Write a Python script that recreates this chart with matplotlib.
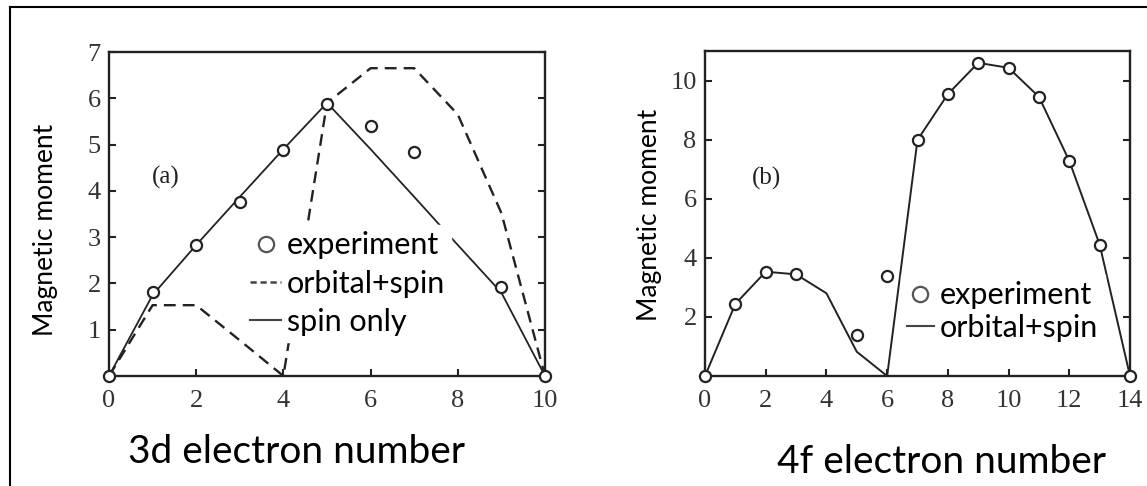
import matplotlib.pyplot as plt
from matplotlib.lines import Line2D

# 3d series
n_3d = [0, 1, 2, 3, 4, 5, 6, 7, 8, 9, 10]
spin_only_3d = [0, 1.75, 2.83, 3.87, 4.9, 5.9, 4.9, 3.87, 2.83, 1.8, 0]
orb_spin_3d = [0, 1.53, 1.53, 0.77, 0, 5.9, 6.65, 6.65, 5.65, 3.52, 0]
exp_n_3d = [0, 1, 2, 3, 4, 5, 6, 7, 9, 10]
exp_3d = [0, 1.81, 2.83, 3.76, 4.88, 5.87, 5.4, 4.84, 1.92, 0]

# 4f series
n_4f = list(range(15))
orb_spin_4f = [0, 2.44, 3.53, 3.44, 2.8, 0.82, 0, 7.99, 9.54, 10.6, 10.43, 9.45, 7.28, 4.45, 0]
exp_n_4f = [0, 1, 2, 3, 5, 6, 7, 8, 9, 10, 11, 12, 13, 14]
exp_4f = [0, 2.44, 3.53, 3.44, 1.4, 3.38, 7.99, 9.54, 10.6, 10.43, 9.45, 7.28, 4.45, 0]

xticks_3d = [0, 2, 4, 6, 8, 10]
yticks_3d = [1, 2, 3, 4, 5, 6, 7]
xticks_4f = [0, 2, 4, 6, 8, 10, 12, 14]
yticks_4f = [2, 4, 6, 8, 10]

SANS = ['Lato', 'DejaVu Sans']
SERIF = 'Liberation Serif'
INK = '#222222'

fig = plt.figure(figsize=(11.47, 4.86), dpi=100)

# outer frame (left and top edges)
fig.add_artist(Line2D([10 / 1147, 10 / 1147], [0, 1 - 7 / 486], color='black', lw=1.5))
fig.add_artist(Line2D([10 / 1147, 1], [1 - 7 / 486, 1 - 7 / 486], color='black', lw=1.5))

ax1 = fig.add_axes([109 / 1147, 1 - 376 / 486, 436 / 1147, 324 / 486])
ax2 = fig.add_axes([705 / 1147, 1 - 376 / 486, 425 / 1147, 325 / 486])

mk = dict(marker='o', ms=8, mfc='white', mec=INK, mew=1.6, ls='none', clip_on=False, zorder=4)

ax1.plot(n_3d, spin_only_3d, color=INK, lw=1.3, clip_on=False)
ax1.plot(n_3d, orb_spin_3d, color=INK, lw=1.7, ls=(0, (5, 3)), clip_on=False)
ax1.plot(exp_n_3d, exp_3d, **mk)
ax1.set_xlim(0, 10)
ax1.set_ylim(0, 7)
ax1.set_xticks(xticks_3d)
ax1.set_yticks(yticks_3d)
ax1.text(1.31, 4.3, '(a)', family=SERIF, fontsize=18, color=INK, ha='center', va='center')

ax2.plot(n_4f, orb_spin_4f, color=INK, lw=1.4, clip_on=False)
ax2.plot(exp_n_4f, exp_4f, **mk)
ax2.set_xlim(0, 14)
ax2.set_ylim(0, 11)
ax2.set_xticks(xticks_4f)
ax2.set_yticks(yticks_4f)
ax2.text(2.04, 6.7, '(b)', family=SERIF, fontsize=18, color=INK, ha='center', va='center')

for ax in (ax1, ax2):
    for s in ax.spines.values():
        s.set_linewidth(1.7)
        s.set_color(INK)
    ax.tick_params(direction='in', length=5, width=1.5, color=INK,
                   labelsize=19, labelcolor='#333333', right=True)
    ax.tick_params(axis='x', pad=10)
    ax.tick_params(axis='y', pad=6)
    for lab in ax.get_xticklabels() + ax.get_yticklabels():
        lab.set_family(SERIF)

fig.text(46 / 1147, 1 - 230 / 486, 'Magnetic moment', family=SANS, fontsize=19,
         rotation=90, ha='center', va='center')
fig.text(649 / 1147, 1 - 215 / 486, 'Magnetic moment', family=SANS, fontsize=19,
         rotation=90, ha='center', va='center')
fig.text(297 / 1147, 1 - 452 / 486, '3d electron number', family=SANS, fontsize=28,
         ha='center', va='center')
fig.text(941 / 1147, 1 - 462 / 486, '4f electron number', family=SANS, fontsize=28,
         ha='center', va='center')

h_exp = Line2D([], [], marker='o', ms=11, mfc='white', mec='#555555', mew=1.6, ls='none')
h_dash = Line2D([], [], color='#444444', lw=1.8, ls=(0, (2.5, 1.5)))
h_solid = Line2D([], [], color='#444444', lw=1.5)

leg1 = ax1.legend([h_exp, h_dash, h_solid], ['experiment', 'orbital+spin', 'spin only'],
                  loc='upper left', bbox_to_anchor=(0.31, 0.465), prop={'family': SANS, 'size': 22},
                  frameon=True, fancybox=False, facecolor='white', edgecolor='white', framealpha=1,
                  handlelength=1.0, handletextpad=0.2, labelspacing=0.33, borderpad=0.2,
                  borderaxespad=0)
leg1.set_zorder(5)

leg2 = ax2.legend([h_exp, h_solid], ['experiment', 'orbital+spin'],
                  loc='upper left', bbox_to_anchor=(0.46, 0.31), prop={'family': SANS, 'size': 22},
                  frameon=True, fancybox=False, facecolor='white', edgecolor='white', framealpha=1,
                  handlelength=0.9, handletextpad=0.2, labelspacing=0.15, borderpad=0.2,
                  borderaxespad=0)
leg2.set_zorder(5)

fig.savefig('out.png', dpi=100)
